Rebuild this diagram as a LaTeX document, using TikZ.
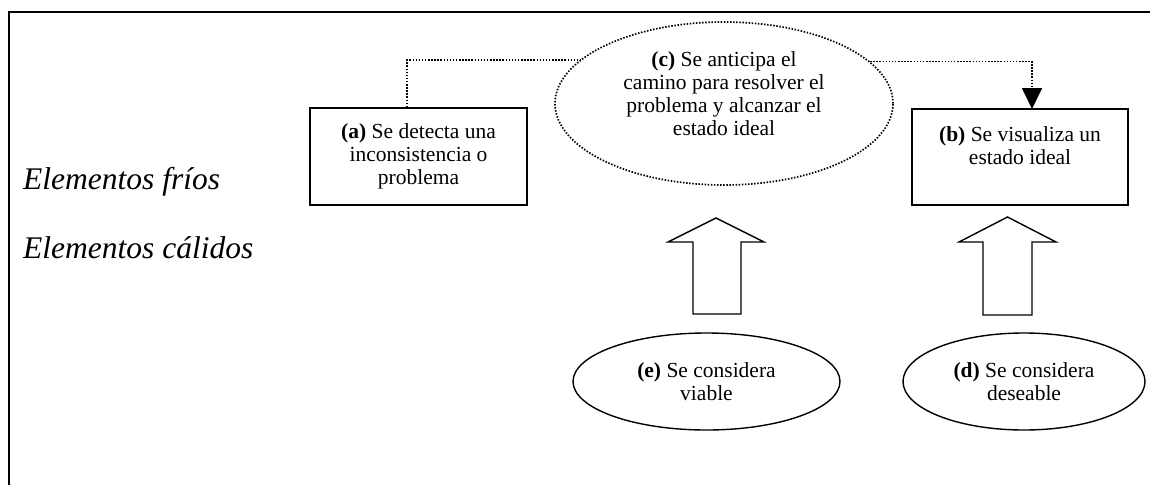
\documentclass[tikz,border=0pt]{standalone}
\usepackage{fontspec}
\setmainfont{Liberation Serif}
\usetikzlibrary{shapes.geometric,arrows.meta}
\begin{document}
\begin{tikzpicture}[x=1pt,y=-1pt,
  txt/.style={font=\fontsize{21.5}{23}\selectfont,align=center},
  boxnode/.style={txt,draw,line width=1.6pt,minimum width=217pt,minimum height=97pt,inner sep=0pt},
  ellnode/.style={txt,ellipse,draw,line width=1.4pt,inner sep=0pt},
  dotline/.style={line width=1.7pt,dash pattern=on 1.5pt off 1.6pt},
  side/.style={font=\fontsize{31.5}{34}\selectfont\itshape,anchor=base west,inner sep=0pt},
  blockarrow/.style={draw,line width=1.4pt,line join=miter}]
\useasboundingbox (0,0) rectangle (1150,485);
% frame
\draw[line width=2.4pt] (9,485) -- (9,12) -- (1150,12);
% side labels
\node[side] (frios) at (23,189) {Elementos fríos};
\node[side] (calidos) at (23,258) {Elementos cálidos};
% boxes
\node[boxnode] (a) at (418.5,156.5) {\textbf{(a)} Se detecta una\\inconsistencia o\\problema};
\node[boxnode,minimum width=216pt,minimum height=96pt] (b) at (1020,157) {\textbf{(b)} Se visualiza un\\estado ideal\\\mbox{}};
% dotted ellipse
\node[ellnode,dotline,minimum width=338pt,minimum height=163pt] (c) at (724,103.5)
  {\textbf{(c)} Se anticipa el\\camino para resolver el\\problema y alcanzar el\\estado ideal\\[-3pt]\mbox{}};
% solid ellipses
\node[ellnode,minimum width=267pt,minimum height=97pt] (e) at (706.5,381.5) {\textbf{(e)} Se considera\\viable};
\node[ellnode,minimum width=242pt,minimum height=97pt] (d) at (1024,381.5) {\textbf{(d)} Se considera\\deseable};
% dotted connectors
\coordinate (k1) at (407,60);
\coordinate (bt) at (1032,109);
\draw[dotline] ([xshift=-11.5pt]a.north) -- (k1) -- (k1 -| c.163.5);
\draw[dotline,-{Triangle[width=20pt,length=21pt]}] (c.16.5) -| (bt);
% block arrows
\draw[blockarrow] (716,218) -- (764,242) -- (741,242) -- (741,314) -- (693,314) -- (693,242) -- (668,242) -- cycle;
\draw[blockarrow] (1007.5,217) -- (1056,242) -- (1032,242) -- (1032,315) -- (983,315) -- (983,242) -- (959,242) -- cycle;
\end{tikzpicture}
\end{document}
